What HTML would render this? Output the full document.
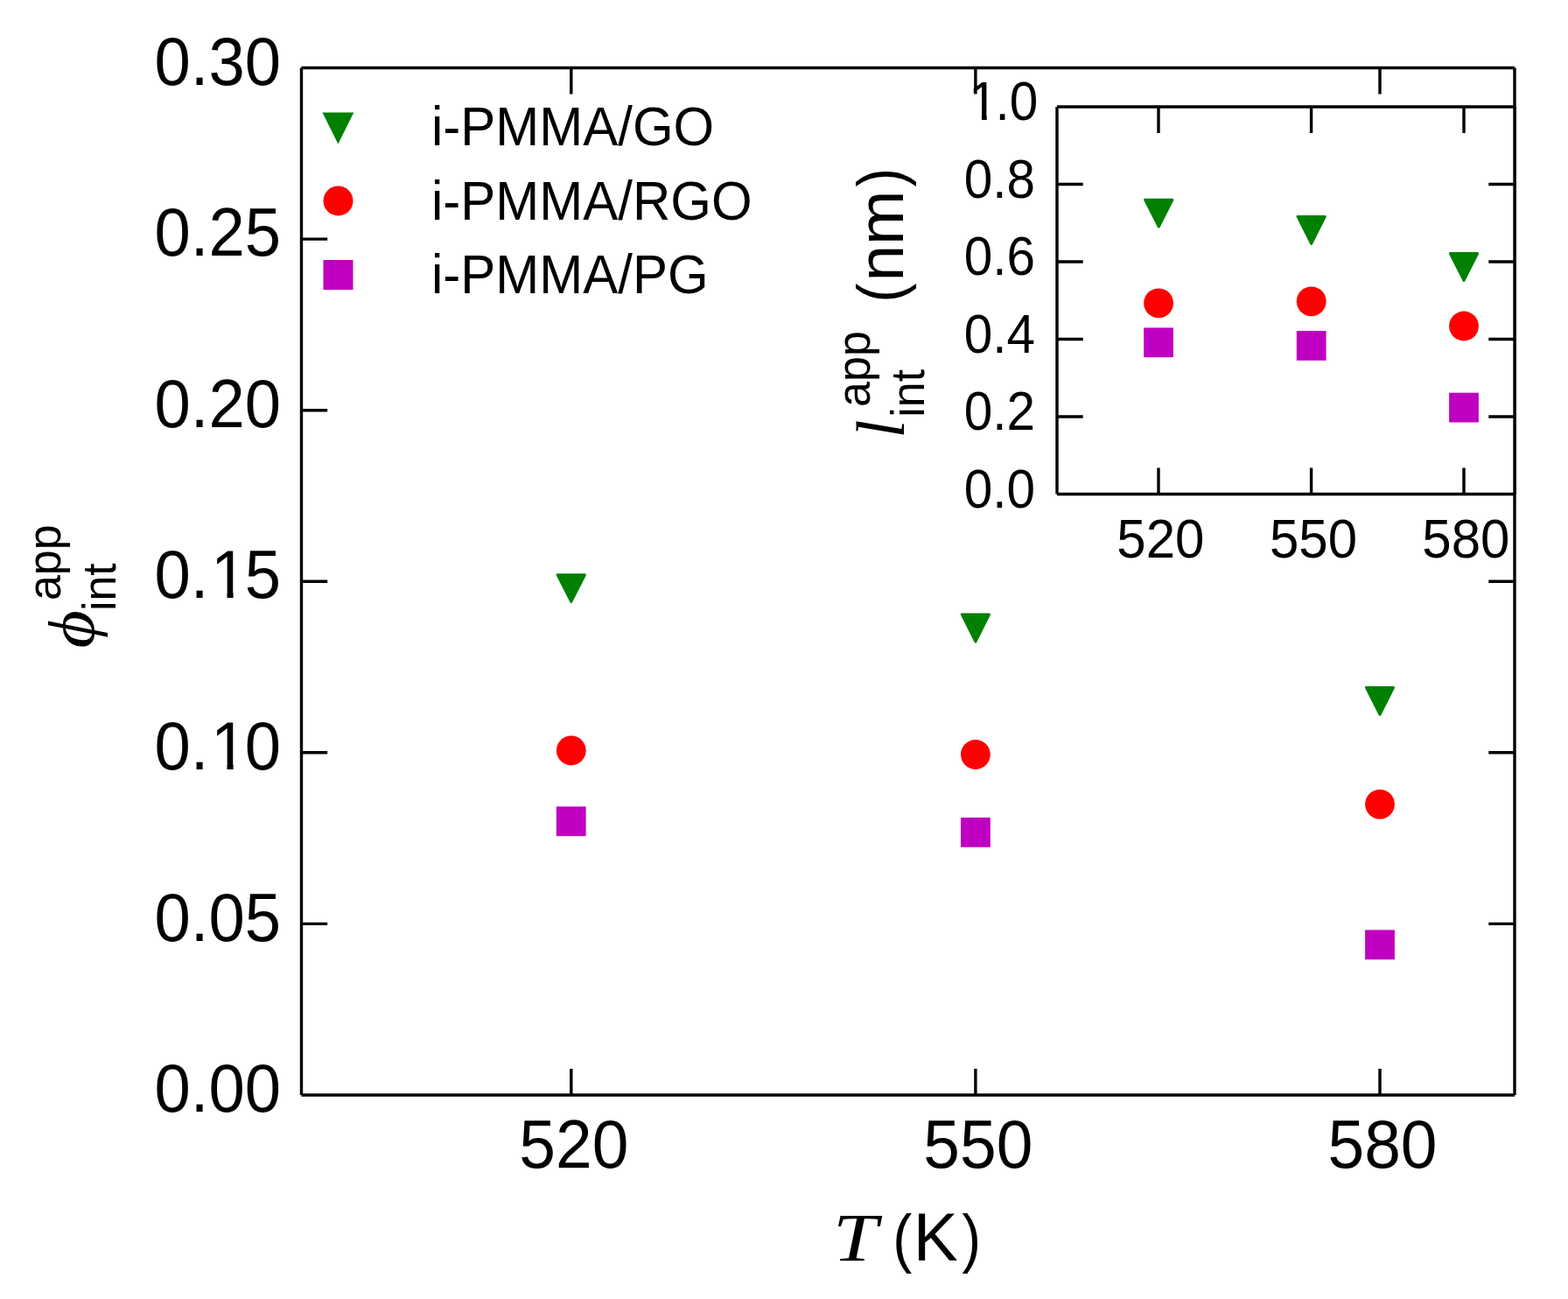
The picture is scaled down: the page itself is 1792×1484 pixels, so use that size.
<!DOCTYPE html>
<html>
<head>
<meta charset="utf-8">
<title>phi_int vs T</title>
<style>
html,body{margin:0;padding:0;background:#fff;}
body{width:1792px;height:1484px;overflow:hidden;}
svg{display:block;}
text{font-family:"Liberation Sans",Arial,Helvetica,sans-serif;fill:#000;}
.ser{font-family:"Liberation Serif","Times New Roman",serif;font-style:italic;}
</style>
</head>
<body>
<svg width="1792" height="1484" viewBox="0 0 1792 1484">
<rect x="0" y="0" width="1792" height="1484" fill="#fff"/>
<path d="M344.5 77.5V1251.0M1731.0 77.5V1251.0M344.5 77.5H1731.0M344.5 1251.0H1731.0M344.5 273.1H374.2M1731.0 273.1H1701.3M344.5 468.7H374.2M1731.0 468.7H1701.3M344.5 664.2H374.2M1731.0 664.2H1701.3M344.5 859.8H374.2M1731.0 859.8H1701.3M344.5 1055.4H374.2M1731.0 1055.4H1701.3M652.8 1251.0V1221.0M652.8 77.5V107.5M1114.9 1251.0V1221.0M1114.9 77.5V107.5M1577.0 1251.0V1221.0M1577.0 77.5V107.5" stroke="#000" stroke-width="3.4" fill="none"/>
<text transform="translate(321.00 96.70) scale(0.99 1.041)" font-size="75" text-anchor="end">0.30</text>
<text transform="translate(321.00 292.30) scale(0.99 1.041)" font-size="75" text-anchor="end">0.25</text>
<text transform="translate(321.00 487.90) scale(0.99 1.041)" font-size="75" text-anchor="end">0.20</text>
<text transform="translate(321.00 683.40) scale(0.99 1.041)" font-size="75" text-anchor="end">0.<tspan dx="2.7">1</tspan><tspan dx="-2.7">5</tspan></text>
<text transform="translate(321.00 879.00) scale(0.99 1.041)" font-size="75" text-anchor="end">0.<tspan dx="2.7">1</tspan><tspan dx="-2.7">0</tspan></text>
<text transform="translate(321.00 1074.60) scale(0.99 1.041)" font-size="75" text-anchor="end">0.05</text>
<text transform="translate(321.00 1270.20) scale(0.99 1.041)" font-size="75" text-anchor="end">0.00</text>
<text transform="translate(655.80 1333.80) scale(1.0 1.041)" font-size="75" text-anchor="middle">520</text>
<text transform="translate(1117.90 1333.80) scale(1.0 1.041)" font-size="75" text-anchor="middle">550</text>
<text transform="translate(1580.00 1333.80) scale(1.0 1.041)" font-size="75" text-anchor="middle">580</text>
<text transform="translate(951.90 1439.80) scale(1.22 1.034)" font-size="75" class="ser">T</text>
<text transform="translate(1020.20 1439.80) scale(0.88 1.0)" font-size="75">(</text>
<text transform="translate(1043.70 1439.80) scale(1.02 1.041)" font-size="75">K</text>
<text transform="translate(1099.40 1439.80) scale(0.86 1.0)" font-size="75">)</text>
<text transform="translate(107.30 740.60) rotate(-90) scale(1.12 1.0)" font-size="75" class="ser">ϕ</text>
<text transform="translate(69.30 686.10) rotate(-90) scale(1.0 1.041)" font-size="52">app</text>
<text transform="translate(132.00 698.10) rotate(-90) scale(1.0 1.041)" font-size="52">int</text>
<polygon points="368.5,128.4 404.3,128.4 386.4,164.4" fill="#008000"/>
<circle cx="386.5" cy="229.4" r="17" fill="#ff0000"/>
<rect x="369.5" y="297" width="34" height="34" fill="#c000c0"/>
<text transform="translate(493.00 166.00) scale(1.0 1.041)" font-size="60">i-PMMA/GO</text>
<text transform="translate(493.00 251.00) scale(1.0 1.041)" font-size="60">i-PMMA/RGO</text>
<text transform="translate(493.00 335.00) scale(1.0 1.041)" font-size="60">i-PMMA/PG</text>
<g fill="#008000" stroke="#008000" stroke-width="3" stroke-linejoin="round">
<polygon points="637.2,656.7 668.4,656.7 652.8,687.4"/>
<polygon points="1099.3,701.9 1130.5,701.9 1114.9,733.0"/>
<polygon points="1561.4,785.4 1592.6,785.4 1577.0,816.3"/>
</g>
<g fill="#ff0000">
<circle cx="652.8" cy="857.4" r="16.9"/>
<circle cx="1114.9" cy="862.0" r="16.9"/>
<circle cx="1577.0" cy="918.8" r="16.9"/>
</g>
<g fill="#c000c0">
<rect x="635.8" y="921.4" width="33.8" height="33.8"/>
<rect x="1098.0" y="934.0" width="33.8" height="33.8"/>
<rect x="1560.1" y="1062.4" width="33.8" height="33.8"/>
</g>
<rect x="1208.0" y="122.0" width="523.0" height="442.5" fill="#fff"/>
<path d="M1208.0 122.0V564.5M1731.0 122.0V564.5M1208.0 122.0H1731.0M1208.0 564.5H1731.0M1208.0 476.0H1237.7M1731.0 476.0H1701.3M1208.0 387.5H1237.7M1731.0 387.5H1701.3M1208.0 299.0H1237.7M1731.0 299.0H1701.3M1208.0 210.5H1237.7M1731.0 210.5H1701.3M1324.0 564.5V534.5M1324.0 122.0V152.0M1498.6 564.5V534.5M1498.6 122.0V152.0M1673.0 564.5V534.5M1673.0 122.0V152.0" stroke="#000" stroke-width="3.4" fill="none"/>
<text transform="translate(1183.00 579.80) scale(0.975 1.041)" font-size="60" text-anchor="end">0.0</text>
<text transform="translate(1183.00 491.30) scale(0.975 1.041)" font-size="60" text-anchor="end">0.2</text>
<text transform="translate(1183.00 402.80) scale(0.975 1.041)" font-size="60" text-anchor="end">0.4</text>
<text transform="translate(1183.00 314.30) scale(0.975 1.041)" font-size="60" text-anchor="end">0.6</text>
<text transform="translate(1183.00 225.80) scale(0.975 1.041)" font-size="60" text-anchor="end">0.8</text>
<text transform="translate(1107.09 137.30) scale(1.0 1.041)" font-size="60">1</text>
<text transform="translate(1186.30 137.30) scale(0.975 1.041)" font-size="60" text-anchor="end">.0</text>
<text transform="translate(1326.40 637.20) scale(1.0 1.041)" font-size="60" text-anchor="middle">520</text>
<text transform="translate(1501.00 637.20) scale(1.0 1.041)" font-size="60" text-anchor="middle">550</text>
<text transform="translate(1675.40 637.20) scale(1.0 1.041)" font-size="60" text-anchor="middle">580</text>
<text transform="translate(1032.60 500.40) rotate(-90) scale(1.0 1.04)" font-size="75" class="ser">l</text>
<text transform="translate(994.40 464.90) rotate(-90) scale(1.0 1.041)" font-size="52">app</text>
<text transform="translate(1056.20 476.70) rotate(-90) scale(1.0 1.041)" font-size="52">int</text>
<text transform="translate(1032.00 345.50) rotate(-90) scale(0.88 1.0)" font-size="75">(</text>
<text transform="translate(1032.00 321.60) rotate(-90)" font-size="75">nm</text>
<text transform="translate(1032.00 213.50) rotate(-90) scale(0.86 1.0)" font-size="75">)</text>
<g fill="#008000" stroke="#008000" stroke-width="3" stroke-linejoin="round">
<polygon points="1308.7,228.2 1339.9,228.2 1324.3,259.0"/>
<polygon points="1483.1,247.4 1514.3,247.4 1498.7,278.4"/>
<polygon points="1657.4,289.6 1688.6,289.6 1673.0,320.4"/>
</g>
<g fill="#ff0000">
<circle cx="1324.1" cy="346.3" r="16.9"/>
<circle cx="1498.7" cy="344.3" r="16.9"/>
<circle cx="1673.0" cy="372.5" r="16.9"/>
</g>
<g fill="#c000c0">
<rect x="1307.2" y="374.4" width="33.8" height="33.8"/>
<rect x="1481.8" y="378.0" width="33.8" height="33.8"/>
<rect x="1656.1" y="448.7" width="33.8" height="33.8"/>
</g>
<path d="M245.54 676.57H259.51V684.60H245.54ZM266.57 676.57H279.95V684.60H266.57Z" fill="#fff"/>
<path d="M245.54 872.17H259.51V880.20H245.54ZM266.57 872.17H279.95V880.20H266.57Z" fill="#fff"/>
<path d="M1110.46 131.63H1121.93V138.50H1110.46ZM1127.73 131.63H1138.73V138.50H1127.73Z" fill="#fff"/>
</svg>
</body>
</html>
